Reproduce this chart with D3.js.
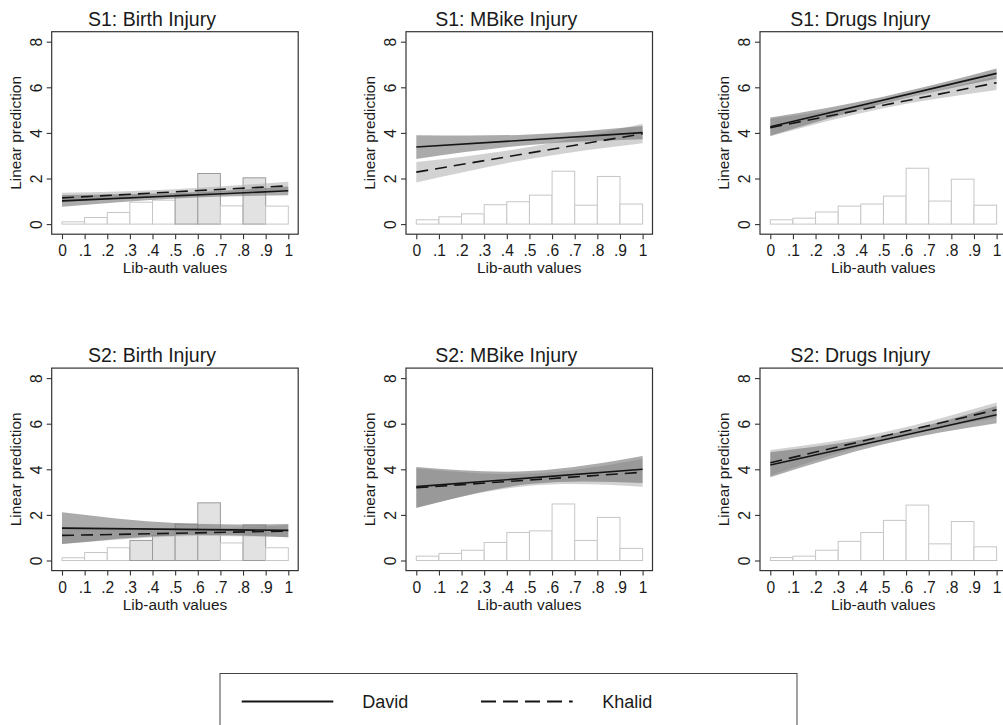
<!DOCTYPE html>
<html><head><meta charset="utf-8">
<script src="https://cdn.jsdelivr.net/npm/d3@7"></script>
<style>
body{margin:0;background:#fff}
svg{display:block}
text{font-family:"Liberation Sans",Arial,sans-serif;fill:#1a1a1a}
</style>
</head><body>
<svg id="c" width="1003" height="725"></svg>
<script>
// ---------- data ----------
const panelTitles = ["S1: Birth Injury","S1: MBike Injury","S1: Drugs Injury",
                     "S2: Birth Injury","S2: MBike Injury","S2: Drugs Injury"];
const xTickValues = [0,0.1,0.2,0.3,0.4,0.5,0.6,0.7,0.8,0.9,1];
const xTickLabels = ["0",".1",".2",".3",".4",".5",".6",".7",".8",".9","1"];
const yTickValues = [0,2,4,6,8];
const binStarts = [0,0.1,0.2,0.3,0.4,0.5,0.6,0.7,0.8,0.9];
const binWidth = 0.1;

// histogram heights (on prediction axis scale)
const histS1Birth = [0.10,0.29,0.51,0.96,1.05,1.30,2.22,0.80,2.03,0.79];
const histS1MBike = [0.19,0.32,0.45,0.85,0.98,1.27,2.32,0.83,2.09,0.88];
const histS1Drugs = [0.19,0.26,0.53,0.79,0.88,1.23,2.45,1.01,1.97,0.83];
const histS2Birth = [0.12,0.35,0.56,0.88,1.10,1.60,2.53,0.77,1.56,0.56];
const histS2MBike = [0.19,0.31,0.45,0.79,1.23,1.30,2.48,0.88,1.89,0.53];
const histS2Drugs = [0.13,0.19,0.45,0.84,1.23,1.76,2.43,0.73,1.71,0.60];
const histAll = [histS1Birth,histS1MBike,histS1Drugs,histS2Birth,histS2MBike,histS2Drugs];
// shaded (grey-filled) bins per panel
const shadedBins = [[5,6,8],[],[],[3,4,5,6,8],[],[]];

// fitted lines at x = 0 and x = 1
const fitX = [0,1];
const davidFit  = [[1.02,1.46],[3.38,4.01],[4.27,6.61],[1.42,1.32],[3.24,4.00],[4.19,6.39]];
const khalidFit = [[1.15,1.68],[2.28,3.96],[4.23,6.20],[1.10,1.29],[3.19,3.87],[4.29,6.61]];

// confidence bands at x = 0, .5, 1
const ciX = [0,0.5,1];
const davidLo  = [[0.76,1.12,1.27],[2.86,3.47,3.72],[3.87,5.29,6.38],[0.72,1.10,1.02],[2.30,3.35,3.40],[3.65,5.10,6.02]];
const davidHi  = [[1.28,1.36,1.65],[3.90,3.93,4.30],[4.67,5.59,6.82],[2.12,1.64,1.60],[4.10,3.92,4.58],[4.75,5.48,6.78]];
const khalidLo = [[0.95,1.30,1.50],[1.82,2.86,3.55],[3.85,5.08,5.88],[0.72,1.05,1.02],[2.32,3.28,3.24],[3.72,5.27,6.25]];
const khalidHi = [[1.37,1.53,1.86],[2.72,3.38,4.40],[4.62,5.35,6.50],[1.48,1.35,1.56],[4.05,3.80,4.45],[4.85,5.63,6.93]];

const legendLabels = ["David","Khalid"];

// ---------- layout ----------
const svg = d3.select("#c");
const colLeft = [51.7, 406, 760];
const rowTop = [31.7, 368.1];
const plotW = 246.5, plotH = 202.5;
const defs = svg.append("defs");

panelTitles.forEach((title, i) => {
  const col = i % 3, row = Math.floor(i / 3);
  const L = colLeft[col], T = rowTop[row];
  const x = d3.scaleLinear().domain([0,1]).range([L + 10.3, L + 236.6]);
  const y = d3.scaleLinear().domain([0,8]).range([T + 192.4, T + 10]);
  const g = svg.append("g");

  defs.append("clipPath").attr("id","clip"+i)
    .append("rect").attr("x",L).attr("y",T).attr("width",plotW).attr("height",plotH);
  const pg = g.append("g").attr("clip-path","url(#clip"+i+")");

  // histogram
  const hist = histAll[i];
  pg.selectAll("rect.bar").data(binStarts).enter().append("rect")
    .attr("x", d => x(d))
    .attr("width", d => x(d + binWidth) - x(d))
    .attr("y", (d,j) => y(hist[j]))
    .attr("height", (d,j) => y(0) - y(hist[j]))
    .attr("fill", (d,j) => shadedBins[i].includes(j) ? "#e2e2e2" : "#ffffff")
    .attr("stroke", (d,j) => shadedBins[i].includes(j) ? "#9c9c9c" : "#c6c6c6")
    .attr("stroke-width", 1);

  // bands
  const area = d3.area().curve(d3.curveNatural)
    .x(d => x(d.x)).y0(d => y(d.lo)).y1(d => y(d.hi));
  const kBand = ciX.map((cx,k) => ({x:cx, lo:khalidLo[i][k], hi:khalidHi[i][k]}));
  const dBand = ciX.map((cx,k) => ({x:cx, lo:davidLo[i][k], hi:davidHi[i][k]}));
  pg.append("path").attr("d", area(kBand)).attr("fill","#b4b4b4").attr("fill-opacity",0.6);
  pg.append("path").attr("d", area(dBand)).attr("fill","#737373").attr("fill-opacity",0.6);

  // lines
  const line = d3.line().x(d => x(d.x)).y(d => y(d.v));
  pg.append("path").attr("d", line(fitX.map((fx,k)=>({x:fx, v:khalidFit[i][k]}))))
    .attr("fill","none").attr("stroke","#151515").attr("stroke-width",1.6).attr("stroke-dasharray","12,7");
  pg.append("path").attr("d", line(fitX.map((fx,k)=>({x:fx, v:davidFit[i][k]}))))
    .attr("fill","none").attr("stroke","#151515").attr("stroke-width",1.6);

  // frame
  g.append("rect").attr("x",L).attr("y",T).attr("width",plotW).attr("height",plotH)
    .attr("fill","none").attr("stroke","#333").attr("stroke-width",1.2);

  // y axis
  const ya = g.append("g").attr("transform",`translate(${L},0)`)
    .call(d3.axisLeft(y).tickValues(yTickValues).tickSize(5).tickFormat(d3.format("d")));
  ya.select(".domain").remove();
  ya.selectAll(".tick line").attr("stroke","#333").attr("stroke-width",1.1);
  ya.selectAll(".tick text")
    .attr("transform","rotate(-90)").attr("x",0).attr("y",-15).attr("dy","0.35em")
    .attr("text-anchor","middle").style("font-size","15.6px").attr("fill","#1a1a1a");

  // x axis
  const xa = g.append("g").attr("transform",`translate(0,${T+plotH})`)
    .call(d3.axisBottom(x).tickValues(xTickValues).tickSize(5).tickPadding(6)
      .tickFormat((d,k) => xTickLabels[k]));
  xa.select(".domain").remove();
  xa.selectAll(".tick line").attr("stroke","#333").attr("stroke-width",1.1);
  xa.selectAll(".tick text").style("font-size","15.6px").attr("fill","#1a1a1a");

  // axis titles
  g.append("text").attr("transform",`translate(${L-36},${T+plotH/2}) rotate(-90)`)
    .attr("text-anchor","middle").attr("dy","0.35em").style("font-size","15.4px").text("Linear prediction");
  g.append("text").attr("x",L+plotW/2).attr("y",T+241.5)
    .attr("text-anchor","middle").style("font-size","15.4px").text("Lib-auth values");

  // title
  g.append("text").attr("x",L+plotW/2-23).attr("y",T-6)
    .attr("text-anchor","middle").style("font-size","19.5px").text(title);
});

// ---------- legend ----------
const lg = svg.append("g");
lg.append("rect").attr("x",220).attr("y",673.5).attr("width",577).attr("height",60)
  .attr("fill","none").attr("stroke","#444").attr("stroke-width",1);
lg.append("line").attr("x1",241.7).attr("x2",333.3).attr("y1",701.5).attr("y2",701.5)
  .attr("stroke","#151515").attr("stroke-width",1.8);
lg.append("text").attr("x",362.3).attr("y",701.5).attr("dy","0.35em").style("font-size","18px").text(legendLabels[0]);
lg.append("line").attr("x1",481).attr("x2",572.7).attr("y1",701.5).attr("y2",701.5)
  .attr("stroke","#151515").attr("stroke-width",1.8).attr("stroke-dasharray","15,7");
lg.append("text").attr("x",602.3).attr("y",701.5).attr("dy","0.35em").style("font-size","18px").text(legendLabels[1]);
</script>
</body></html>
